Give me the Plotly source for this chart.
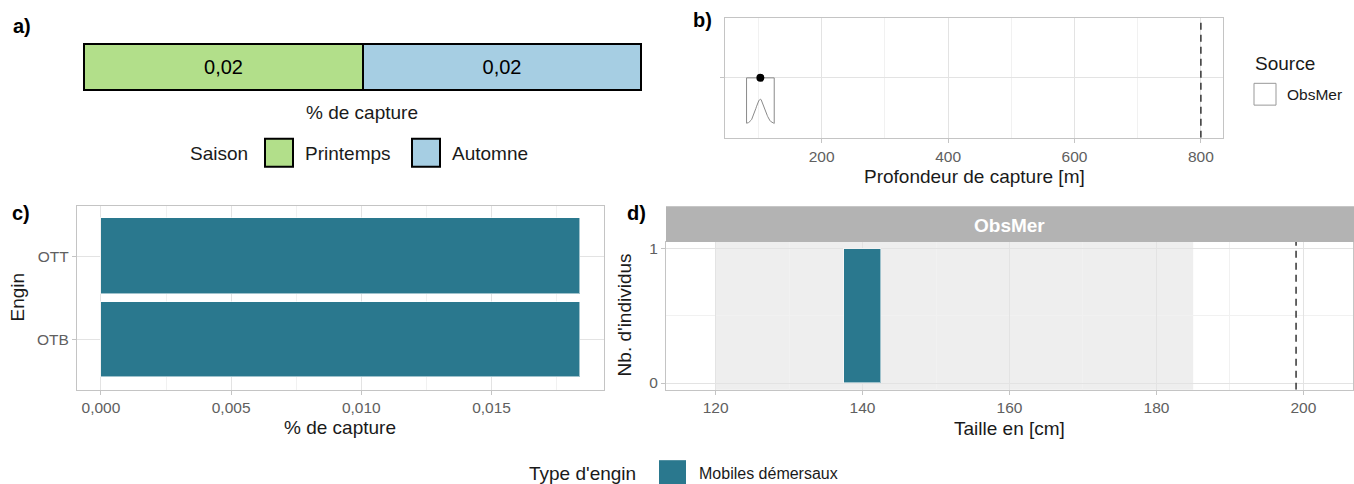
import numpy as np
import plotly.graph_objects as go

W, H = 1354, 484

# ---------------- data ----------------
seasons = ["Printemps", "Automne"]
season_share = [0.0184, 0.0184]
season_colors = ["#B2DF8A", "#A6CEE3"]

depth_obs = [103]
depth_max = 800
depth_ticks = [200, 400, 600, 800]

gears = ["OTB", "OTT"]
gear_share = [0.0184, 0.0184]
gear_type = "Mobiles démersaux"
gear_ticks = [0.0, 0.005, 0.010, 0.015]

size_bins = [140]
size_counts = [1]
size_binwidth = 5
size_range = [120, 185]
size_max = 199
size_ticks = [120, 140, 160, 180, 200]

TEAL = "#2A788E"
FONT = "Liberation Sans, Arial, sans-serif"
BORDER = "#C4C4C4"
GRID = "#E3E3E3"
MINOR = "#F1F1F1"
TICKC = "#606060"
TXT = "#1A1A1A"


def fx(x):
    return x / W


def fy(y):
    return 1 - y / H


fig = go.Figure()

# ---------- panel a : stacked share bar ----------
for s, v, c in zip(seasons, season_share, season_colors):
    fig.add_trace(go.Bar(
        x=[v], y=[0], orientation="h", width=1, name=s,
        marker=dict(color=c, line=dict(color="black", width=2)),
        text=[f"{v:.2f}".replace(".", ",")], textposition="inside",
        insidetextanchor="middle", textangle=0,
        textfont=dict(size=20, color="black", family=FONT),
        xaxis="x", yaxis="y", showlegend=False, hoverinfo="skip"))
tot = sum(season_share)
pad = tot * 2 / 557

# ---------- panel b : depth ----------
bw = 7.3
xs = np.linspace(depth_obs[0] - 3 * bw, depth_obs[0] + 3 * bw, 60)
dens = np.exp(-0.5 * ((xs - depth_obs[0]) / bw) ** 2)
base, top, hgt = 0.544, 1.0, 0.242
ox = [xs[0], xs[-1], xs[-1]] + list(xs[::-1]) + [xs[0], xs[0]]
oy = [top, top, base] + list(base + hgt * dens[::-1]) + [top]
fig.add_trace(go.Scatter(x=ox, y=oy, mode="lines", line=dict(color="#8A8A8A", width=1),
                         xaxis="x2", yaxis="y2", showlegend=False, hoverinfo="skip"))
fig.add_trace(go.Scatter(x=depth_obs, y=[1] * len(depth_obs), mode="markers",
                         marker=dict(color="black", size=8),
                         xaxis="x2", yaxis="y2", showlegend=False))
fig.add_trace(go.Scatter(x=[depth_max, depth_max], y=[0.4, 1.6], mode="lines",
                         line=dict(color="#333333", width=1.5, dash="7px,5px"),
                         xaxis="x2", yaxis="y2", showlegend=False, hoverinfo="skip"))

# ---------- panel c : gear share ----------
fig.add_trace(go.Bar(x=gear_share, y=gears, orientation="h", width=0.9,
                     marker=dict(color=TEAL, line=dict(color="rgba(255,255,255,0.55)", width=1)),
                     xaxis="x3", yaxis="y3", showlegend=False))

# ---------- panel d : size histogram ----------
fig.add_trace(go.Bar(x=size_bins, y=size_counts, width=size_binwidth,
                     marker=dict(color=TEAL, line=dict(color="rgba(255,255,255,0.55)", width=1)),
                     xaxis="x4", yaxis="y4", showlegend=False))
fig.add_trace(go.Scatter(x=[size_max, size_max], y=[-0.05, 1.05], mode="lines",
                         line=dict(color="#333333", width=1.5, dash="7px,5px"),
                         xaxis="x4", yaxis="y4", showlegend=False, hoverinfo="skip"))

shapes = [
    dict(type="rect", xref="x4", yref="y4 domain", x0=size_range[0], x1=size_range[1],
         y0=0, y1=1, fillcolor="#EEEEEE", line=dict(width=0), layer="below"),
    # strip
    dict(type="rect", xref="paper", yref="paper", x0=fx(666), x1=fx(1354), y0=fy(242), y1=fy(206),
         fillcolor="#B3B3B3", line=dict(width=0)),
    # legend a keys
    dict(type="rect", xref="paper", yref="paper", x0=fx(265), x1=fx(293), y0=fy(166), y1=fy(138),
         fillcolor=season_colors[0], line=dict(color="black", width=2)),
    dict(type="rect", xref="paper", yref="paper", x0=fx(412), x1=fx(440), y0=fy(166), y1=fy(138),
         fillcolor=season_colors[1], line=dict(color="black", width=2)),
    # legend b key
    dict(type="rect", xref="paper", yref="paper", x0=fx(1254), x1=fx(1276), y0=fy(104), y1=fy(82),
         fillcolor="white", line=dict(color="#999999", width=1)),
    # bottom legend key
    dict(type="rect", xref="paper", yref="paper", x0=fx(659), x1=fx(686), y0=fy(490), y1=fy(462),
         fillcolor=TEAL, line=dict(width=0)),
]


def ann(text, x, y, size, xanchor="center", color=TXT, angle=0, bold=False):
    return dict(text=f"<b>{text}</b>" if bold else text, x=fx(x), y=fy(y), xref="paper", yref="paper",
                showarrow=False, xanchor=xanchor, yanchor="middle", textangle=angle,
                font=dict(size=size, color=color, family=FONT))


annotations = [
    ann("a)", 11, 24, 20, "left", "black", bold=True),
    ann("b)", 691, 18, 20, "left", "black", bold=True),
    ann("c)", 10, 213, 20, "left", "black", bold=True),
    ann("d)", 625, 213, 20, "left", "black", bold=True),
    ann("% de capture", 362, 111, 19),
    ann("Saison", 250, 153, 19, "right"),
    ann("Printemps", 303, 153, 19, "left"),
    ann("Automne", 450, 153, 19, "left"),
    ann("Profondeur de capture [m]", 974, 176, 19),
    ann("Source", 1253, 62, 19, "left"),
    ann("ObsMer", 1285, 93, 15.5, "left"),
    ann("% de capture", 340, 429, 19),
    ann("Engin", 18, 298, 19, angle=-90),
    ann("ObsMer", 1009, 225, 19, color="white", bold=True),
    ann("Taille en [cm]", 1009, 430, 19),
    ann("Nb. d'individus", 624, 316, 19, angle=-90),
    ann("Type d'engin", 638, 475, 19, "right"),
    ann(gear_type, 697, 475, 16, "left"),
]

axis_common = dict(showline=True, mirror=True, linecolor=BORDER, linewidth=1.2,
                   showgrid=True, gridcolor=GRID, gridwidth=1, zeroline=False,
                   ticks="outside", tickcolor=BORDER, ticklen=4, tickwidth=1,
                   tickfont=dict(size=15.5, color=TICKC, family=FONT), fixedrange=True)

fig.update_layout(
    width=W, height=H, margin=dict(l=0, r=0, t=0, b=0),
    paper_bgcolor="white", plot_bgcolor="white",
    separators=", ", barmode="stack", bargap=0,
    font=dict(family=FONT, color=TXT),
    shapes=shapes, annotations=annotations,
    xaxis=dict(domain=[fx(82), fx(643)], range=[-pad, tot + pad], visible=False, fixedrange=True),
    yaxis=dict(domain=[fy(90), fy(40)], range=[-0.5435, 0.5435], visible=False, fixedrange=True),
    xaxis2=dict(axis_common, domain=[fx(725), fx(1223)], range=[47, 835], anchor="y2",
                tickvals=depth_ticks,
                minor=dict(tickvals=[100, 300, 500, 700], showgrid=True, gridcolor=MINOR, gridwidth=1)),
    yaxis2=dict(axis_common, domain=[fy(137), fy(16)], range=[0.4, 1.6], anchor="x2",
                tickvals=[1], ticktext=[""]),
    xaxis3=dict(axis_common, domain=[fx(77), fx(604)], range=[-0.00092, 0.01932], anchor="y3",
                tickvals=gear_ticks, tickformat=".3f",
                minor=dict(tickvals=[0.0025, 0.0075, 0.0125, 0.0175], showgrid=True,
                           gridcolor=MINOR, gridwidth=1)),
    yaxis3=dict(axis_common, domain=[fy(391), fy(206)], range=[-0.595, 1.595], anchor="x3",
                type="category", categoryorder="array", categoryarray=gears),
    xaxis4=dict(axis_common, domain=[fx(666), fx(1353)], range=[113.25, 206.75], anchor="y4",
                tickvals=size_ticks,
                minor=dict(tickvals=[130, 150, 170, 190], showgrid=True, gridcolor=MINOR, gridwidth=1)),
    yaxis4=dict(axis_common, domain=[fy(391), fy(242)], range=[-0.05, 1.05], anchor="x4",
                tickvals=[0, 1],
                minor=dict(tickvals=[0.5], showgrid=True, gridcolor=MINOR, gridwidth=1)),
)

fig.write_html("out.html", config={"displayModeBar": False},
               post_script="document.body.style.margin='0';document.body.style.padding='0';")
